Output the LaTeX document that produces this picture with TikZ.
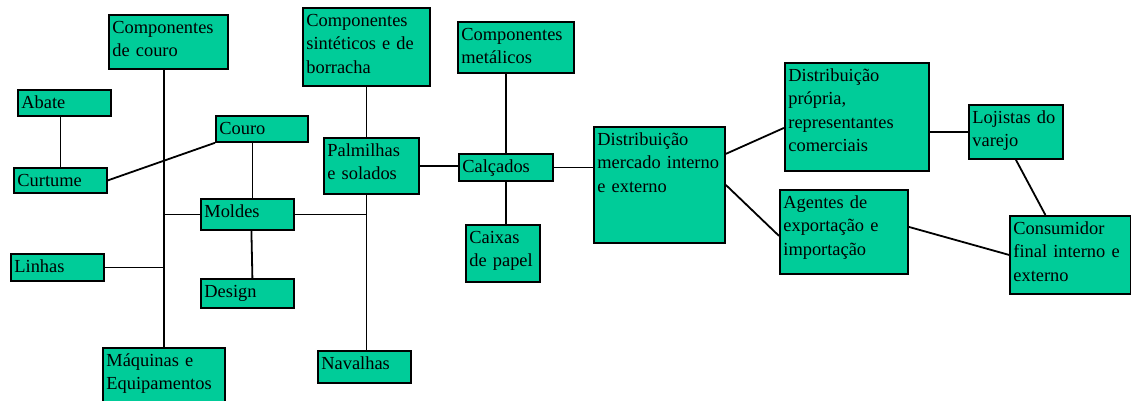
\documentclass[tikz,border=0pt]{standalone}
\usepackage{fontspec}
\setmainfont{Liberation Serif}
\definecolor{verde}{HTML}{00CC99}
\hyphenpenalty=10000

\begin{document}
\begin{tikzpicture}[x=1pt, y=-1pt,
	caixa/.style 2 args={draw, line width=1.8pt, fill=verde, anchor=north west, align=left,
		font=\fontsize{18.4}{23.5}\selectfont, inner xsep=3.5pt, inner ysep=0pt,
		text width=#1pt-7pt, text height=18.5pt, text depth=#2pt-18.5pt},
	ligacao/.style={line width=1.8pt}]
	\useasboundingbox (0,0) rectangle (1131,401);
	\node [caixa={119}{54}] (ccouro) at (108,14) {Componentes\\de couro};
	\node [caixa={93}{26}] (abate) at (17,89) {Abate};
	\node [caixa={92}{26}] (couro) at (215,115) {Couro};
	\node [caixa={93}{25}] (curtume) at (13,167) {Curtume};
	\node [caixa={93}{31}] (moldes) at (200,198) {Moldes};
	\node [caixa={93}{27}] (linhas) at (10,253) {Linhas};
	\node [caixa={93}{29}] (design) at (200,278) {Design};
	\node [caixa={122}{58}] (maquinas) at (102,347) {Máquinas e\\Equipamentos};
	\node [caixa={127}{78}] (csint) at (302,7) {Componentes\\sintéticos e de\\borracha};
	\node [caixa={95}{56}] (palm) at (323,137) {Palmilhas\\e solados};
	\node [caixa={116}{51}] (metal) at (457,21) {Componentes\\metálicos};
	\node [caixa={94}{27}] (calcados) at (458,153) {Calçados};
	\node [caixa={74}{57}] (caixas) at (465,224) {Caixas\\de papel};
	\node [caixa={93}{32}] (navalhas) at (317,350) {Navalhas};
	\node [caixa={131}{116}] (dist) at (593,126) {Distribuição\\mercado interno\\e externo};
	\node [caixa={144}{108}] (propria) at (784,62) {Distribuição\\própria,\\representantes\\comerciais};
	\node [caixa={128}{84}] (agentes) at (779,189) {Agentes de\\exportação e\\importação};
	\node [caixa={94}{54}] (lojistas) at (968,104) {Lojistas do\\varejo};
	\node [caixa={121}{78}] (consumidor) at (1009,215) {Consumidor\\final interno e\\externo};

	\draw [ligacao] (maquinas.north) -- (maquinas.north |- ccouro.south);
	\draw [ligacao] (curtume.north) -- (curtume.north |- abate.south);
	\draw [ligacao] (curtume.east) -- (couro.south west);
	\draw [ligacao] ([xshift=5pt]moldes.north) -- ([xshift=5pt]moldes.north |- couro.south);
	\draw [ligacao] (moldes.west) -- (moldes.west -| maquinas.north);
	\draw [ligacao] ([xshift=4pt]moldes.south) -- ([xshift=5pt]design.north);
	\draw [ligacao] (linhas.east) -- (linhas.east -| maquinas.north);
	\draw [ligacao] (csint.south) -- (csint.south |- palm.north);
	\draw [ligacao] (csint.south |- palm.south) -- (csint.south |- navalhas.north);
	\draw [ligacao] (moldes.east) -- (moldes.east -| csint.south);
	\draw [ligacao] (palm.east) -- (palm.east -| calcados.west);
	\draw [ligacao] (metal.south -| calcados.north) -- (calcados.north);
	\draw [ligacao] (calcados.south) -- (calcados.south |- caixas.north);
	\draw [ligacao] (calcados.east) -- (calcados.east -| dist.west);
	\draw [ligacao] ([yshift=31pt]dist.east) -- ([yshift=-11pt]propria.west);
	\draw [ligacao] (dist.east) -- ([yshift=-4pt]agentes.west);
	\draw [ligacao] (propria.east |- lojistas.west) -- (lojistas.west);
	\draw [ligacao] (lojistas.south) -- ([xshift=-25pt]consumidor.north);
	\draw [ligacao] ([yshift=5pt]agentes.east) -- (consumidor.west);
\end{tikzpicture}
\end{document}
